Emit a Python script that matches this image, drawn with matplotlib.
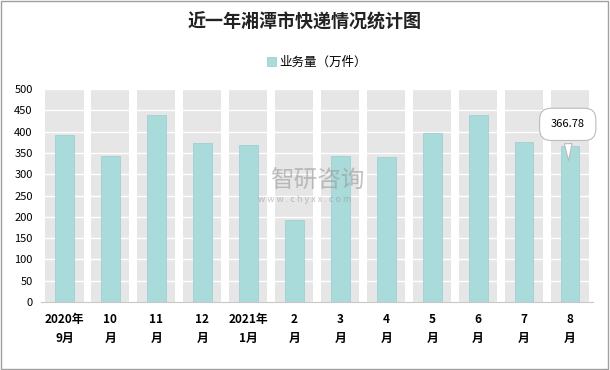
import matplotlib.pyplot as plt
from matplotlib.patches import Rectangle

plt.rcParams['font.family'] = ['Noto Sans CJK SC', 'DejaVu Sans']

months = ['2020年\n9月', '10\n月', '11\n月', '12\n月', '2021年\n1月', '2\n月',
          '3\n月', '4\n月', '5\n月', '6\n月', '7\n月', '8\n月']
volume = [392, 342, 438, 373, 368, 193, 342, 340, 397, 440, 375, 366.78]
yticks = list(range(0, 501, 50))

bar_color = '#a8dbd9'
band_color = '#e6e6e6'

fig = plt.figure(figsize=(6.1, 3.7), dpi=100)
fig.patches.append(Rectangle((0.002, 0.003), 0.995, 0.994, transform=fig.transFigure,
                             fill=False, edgecolor='#a0a0a0', lw=1))
ax = fig.add_axes([41 / 610, 1 - 302 / 370, 552 / 610, 213 / 370])

x = range(len(months))
# grey background band per category
ax.bar(x, [500] * len(months), width=0.83, color=band_color, zorder=0)
for t in yticks[1:]:
    ax.axhline(t, color='white', lw=1, zorder=1)
ax.bar(x, volume, width=0.41, color=bar_color, edgecolor='#9fd0d4', lw=0.6,
       label='业务量（万件）', zorder=2)

ax.set_xlim(-0.51, 11.5)
ax.set_ylim(0, 500)
ax.set_yticks(yticks)
ax.set_xticks(list(x))
ax.set_xticklabels(months, fontsize=8.5, fontweight='bold', linespacing=1.6)
ax.tick_params(axis='y', length=0, labelsize=8, pad=6)
ax.tick_params(axis='x', length=0, pad=8)
for s in ['top', 'right', 'left']:
    ax.spines[s].set_visible(False)
ax.spines['bottom'].set_color('#c8c8c8')

fig.text(0.5, 0.94, '近一年湘潭市快递情况统计图', ha='center', va='center',
         fontsize=13, fontweight='bold', color='#222222')
ax.legend(loc='center', bbox_to_anchor=(0.5, 1.125), frameon=False, fontsize=9,
          handlelength=0.7, handleheight=0.7, handletextpad=0.3)

# callout for the latest value
ax.annotate(f'{volume[-1]:.2f}', xy=(10.97, 325), xytext=(10.95, 417),
            ha='center', va='center', fontsize=8,
            bbox=dict(boxstyle='round,pad=1.0', fc='white', ec='#bbbbbb', lw=0.8),
            arrowprops=dict(arrowstyle='wedge,tail_width=0.7', fc='white',
                            ec='#bbbbbb', lw=0.8),
            zorder=5)

# watermark
fig.text(0.52, 0.51, '智研咨询', ha='center', va='center', fontsize=17,
         color='#9a9a9a', alpha=0.6)
fig.text(0.5, 0.462, 'w w w . c h y x x . c o m', ha='center', va='center',
         fontsize=6.5, color='#9a9a9a', alpha=0.6)

fig.savefig('out.png', dpi=100)
